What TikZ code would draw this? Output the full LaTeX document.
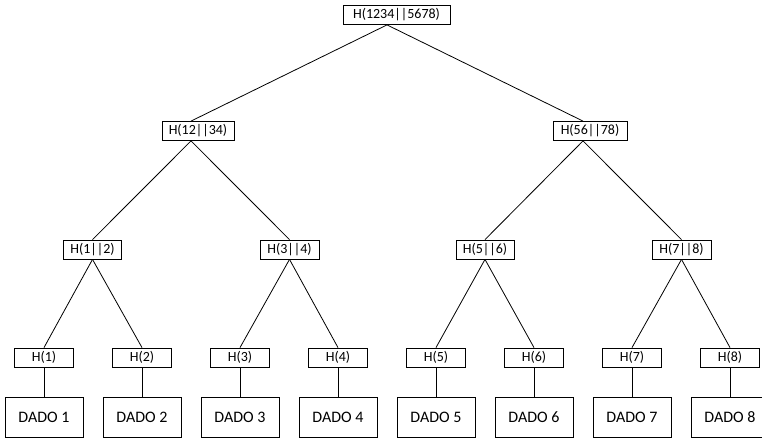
\documentclass[tikz,border=0pt]{standalone}
\usepackage{fontspec}
\setmainfont{Carlito}
\begin{document}
\begin{tikzpicture}[x=1pt,y=-1pt,
  hashbox/.style={draw,line width=0.8pt,inner sep=0pt,minimum height=19pt,
    font=\fontsize{14}{16}\selectfont},
  databox/.style={draw,line width=0.8pt,inner sep=0pt,minimum width=78pt,
    minimum height=40pt,font=\fontsize{16}{18}\selectfont},
  link/.style={line width=0.8pt}]
\useasboundingbox (0,0) rectangle (762,438);

% root
\node[hashbox,minimum width=107pt] (n0) at (396.5,15) {H(1234||5678)};

% second level
\node[hashbox,minimum width=72pt] (n12) at (198,131) {H(12||34)};
\node[hashbox,minimum width=74pt] (n56) at (590,131) {H(56||78)};

% third level
\node[hashbox,minimum width=58pt] (a12) at (92.5,249.5) {H(1||2)};
\node[hashbox,minimum width=59pt] (a34) at (289.5,249.5) {H(3||4)};
\node[hashbox,minimum width=58pt] (a56) at (485,249.5) {H(5||6)};
\node[hashbox,minimum width=59pt] (a78) at (681.5,249.5) {H(7||8)};

% leaf hashes and data blocks
\foreach \i in {1,...,8} {
  \pgfmathsetmacro{\cx}{44+98*(\i-1)}
  \node[hashbox,minimum width=59pt] (h\i) at (\cx,357.5) {H(\i)};
  \node[databox] (d\i) at (\cx,417) {DADO \i};
  \draw[link] (h\i.south) -- (d\i.north);
}

% tree edges
\draw[link] ([xshift=-9.5pt]n0.south) -- ([xshift=-7pt]n12.north);
\draw[link] ([xshift=-9.5pt]n0.south) -- ([xshift=-7pt]n56.north);
\draw[link] ([xshift=-7pt]n12.south) -- (a12.north);
\draw[link] ([xshift=-7pt]n12.south) -- (a34.north);
\draw[link] ([xshift=-7pt]n56.south) -- (a56.north);
\draw[link] ([xshift=-7pt]n56.south) -- (a78.north);
\draw[link] (a12.south) -- (h1.north);
\draw[link] (a12.south) -- (h2.north);
\draw[link] (a34.south) -- (h3.north);
\draw[link] (a34.south) -- (h4.north);
\draw[link] (a56.south) -- (h5.north);
\draw[link] (a56.south) -- (h6.north);
\draw[link] (a78.south) -- (h7.north);
\draw[link] (a78.south) -- (h8.north);
\end{tikzpicture}
\end{document}
